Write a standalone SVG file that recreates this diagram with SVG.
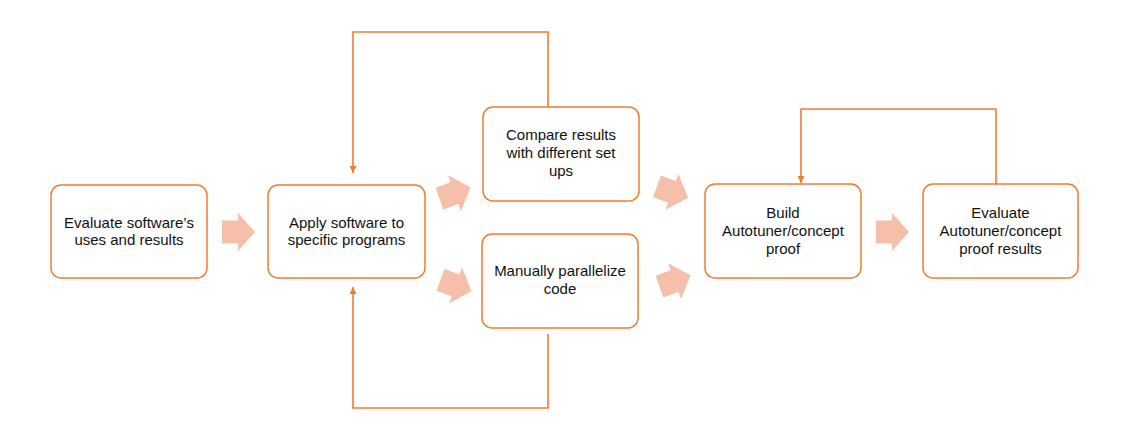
<svg xmlns="http://www.w3.org/2000/svg" width="1142" height="440" viewBox="0 0 1142 440">
<style>
.box{fill:#fff;stroke:#ED7D31;stroke-width:1.5}
.t{font-family:"Liberation Sans",Arial,sans-serif;font-size:15px;fill:#111;text-anchor:middle}
.con{fill:none;stroke:#ED7D31;stroke-width:1.6}
.blk{fill:#F5BFA9}
</style>
<defs>
<path id="ba" d="M-16.5,-11.5 H-0.5 V-19 L16.5,0 L-0.5,19 V11.5 H-16.5 Z"/>
<marker id="ah" markerUnits="userSpaceOnUse" markerWidth="8" markerHeight="8" refX="7" refY="3.5" orient="auto">
<path d="M0,0 L7,3.5 L0,7 Z" fill="#ED7D31"/>
</marker>
</defs>
<rect width="1142" height="440" fill="#fff"/>
<g id="connectors">
<path class="con" d="M548,107 V32 H353 V173" marker-end="url(#ah)"/>
<path class="con" d="M548,334 V408 H353 V287" marker-end="url(#ah)"/>
<path class="con" d="M996,184 V109 H801 V183" marker-end="url(#ah)"/>
</g>
<g id="block-arrows" class="blk">
<use href="#ba" transform="translate(238.5,232)"/>
<use href="#ba" transform="translate(455,193) rotate(-20)"/>
<use href="#ba" transform="translate(456,285.5) rotate(20)"/>
<use href="#ba" transform="translate(672.5,192) rotate(20)"/>
<use href="#ba" transform="translate(675,281) rotate(-20)"/>
<use href="#ba" transform="translate(892.5,232)"/>
</g>
<g id="n1">
<rect class="box" x="51" y="185" width="156" height="93" rx="10"/>
<text class="t" x="129" y="227.5">Evaluate software’s</text>
<text class="t" x="129" y="244.5">uses and results</text>
</g>
<g id="n2">
<rect class="box" x="268" y="185" width="157" height="93" rx="10"/>
<text class="t" x="346.5" y="227.5">Apply software to</text>
<text class="t" x="346.5" y="244.5">specific programs</text>
</g>
<g id="n3">
<rect class="box" x="483" y="107" width="156" height="94" rx="10"/>
<text class="t" x="561" y="140">Compare results</text>
<text class="t" x="561" y="158">with different set</text>
<text class="t" x="561" y="176">ups</text>
</g>
<g id="n4">
<rect class="box" x="482" y="234" width="156" height="94" rx="10"/>
<text class="t" x="560" y="276">Manually parallelize</text>
<text class="t" x="560" y="294">code</text>
</g>
<g id="n5">
<rect class="box" x="705" y="184" width="156" height="94" rx="10"/>
<text class="t" x="783" y="218">Build</text>
<text class="t" x="783" y="236">Autotuner/concept</text>
<text class="t" x="783" y="254">proof</text>
</g>
<g id="n6">
<rect class="box" x="923" y="184" width="155" height="94" rx="10"/>
<text class="t" x="1000.5" y="218">Evaluate</text>
<text class="t" x="1000.5" y="236">Autotuner/concept</text>
<text class="t" x="1000.5" y="254">proof results</text>
</g>
</svg>
